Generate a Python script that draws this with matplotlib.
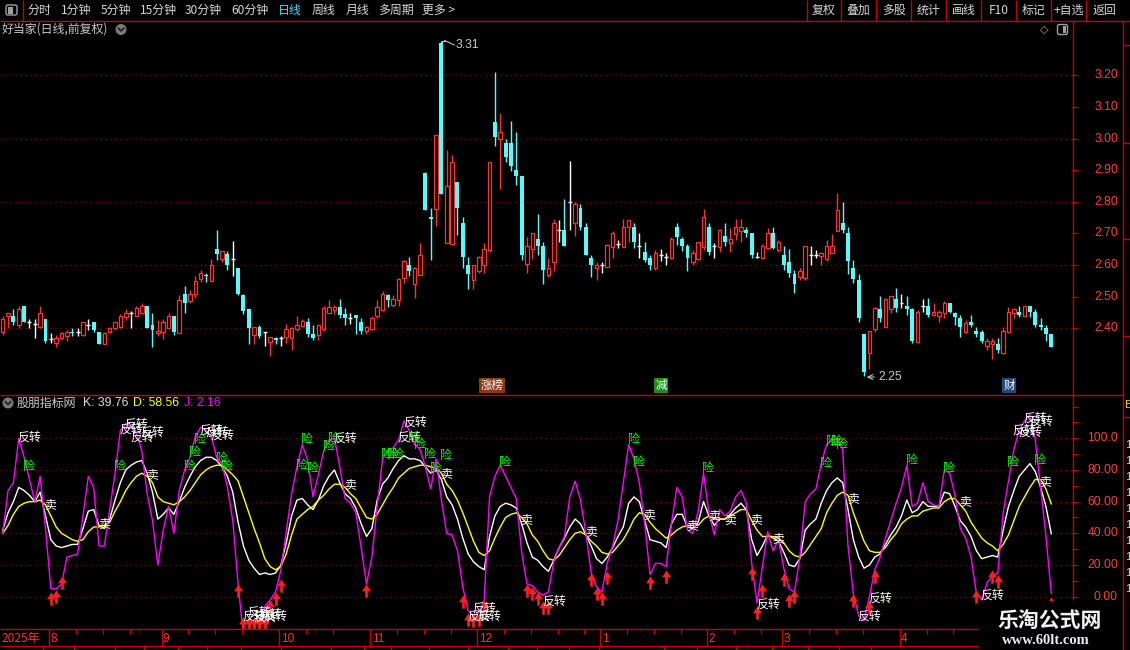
import numpy as np
import matplotlib
matplotlib.use('Agg')
import matplotlib.pyplot as plt
from matplotlib.path import Path
from matplotlib.markers import MarkerStyle
from matplotlib.patches import Rectangle, Circle, FancyBboxPatch
import matplotlib.transforms as mtransforms

plt.rcParams['font.family'] = ['Noto Sans CJK SC', 'DejaVu Sans']

# ---------------- data ----------------
opens = [2.39, 2.44, 2.44, 2.41, 2.47, 2.42, 2.415, 2.405, 2.43, 2.365,
         2.355, 2.37, 2.375, 2.39, 2.39, 2.38, 2.41, 2.42, 2.39, 2.35,
         2.39, 2.40, 2.405, 2.435, 2.45, 2.44, 2.45, 2.47, 2.41, 2.384,
         2.39, 2.40, 2.44, 2.385, 2.51, 2.485, 2.51, 2.555, 2.57, 2.55,
         2.65, 2.62, 2.635, 2.62, 2.59, 2.505, 2.46, 2.38, 2.405, 2.39,
         2.356, 2.37, 2.37, 2.374, 2.37, 2.398, 2.406, 2.42, 2.382, 2.38,
         2.398, 2.45, 2.457, 2.469, 2.445, 2.433, 2.442, 2.421, 2.392, 2.398,
         2.44, 2.457, 2.505, 2.475, 2.489, 2.56, 2.60, 2.54, 2.57, 2.892,
         2.752, 2.778, 3.302, 2.671, 2.668, 2.862, 2.733, 2.60, 2.552, 2.582,
         2.60, 2.648, 3.052, 2.999, 2.985, 2.985, 2.901, 2.882, 2.604, 2.651,
         2.684, 2.66, 2.568, 2.61, 2.71, 2.71, 2.80, 2.732, 2.779, 2.719,
         2.623, 2.59, 2.60, 2.595, 2.658, 2.668, 2.658, 2.719, 2.719, 2.66,
         2.642, 2.623, 2.59, 2.632, 2.626, 2.621, 2.719, 2.681, 2.66, 2.611,
         2.618, 2.656, 2.719, 2.66, 2.658, 2.692, 2.671, 2.698, 2.708, 2.71,
         2.70, 2.626, 2.621, 2.653, 2.70, 2.647, 2.632, 2.61, 2.572, 2.563,
         2.558, 2.632, 2.632, 2.628, 2.618, 2.639, 2.708, 2.732, 2.702, 2.592,
         2.553, 2.382, 2.321, 2.397, 2.46, 2.405, 2.46, 2.492, 2.481, 2.47,
         2.46, 2.358, 2.47, 2.47, 2.442, 2.439, 2.45, 2.481, 2.447, 2.432,
         2.39, 2.421, 2.392, 2.39, 2.344, 2.35, 2.35, 2.321, 2.389, 2.447,
         2.453, 2.439, 2.47, 2.453, 2.411, 2.40, 2.382]
highs = [2.44, 2.45, 2.46, 2.47, 2.47, 2.43, 2.43, 2.47, 2.43, 2.385,
         2.38, 2.39, 2.395, 2.40, 2.40, 2.42, 2.43, 2.42, 2.39, 2.39,
         2.405, 2.42, 2.445, 2.46, 2.455, 2.47, 2.48, 2.47, 2.45, 2.425,
         2.43, 2.45, 2.44, 2.505, 2.535, 2.52, 2.565, 2.585, 2.575, 2.62,
         2.71, 2.645, 2.645, 2.675, 2.59, 2.51, 2.46, 2.405, 2.41, 2.39,
         2.374, 2.374, 2.377, 2.415, 2.404, 2.44, 2.43, 2.433, 2.41, 2.41,
         2.47, 2.489, 2.475, 2.493, 2.463, 2.45, 2.442, 2.433, 2.406, 2.44,
         2.489, 2.519, 2.51, 2.505, 2.558, 2.615, 2.624, 2.594, 2.671, 2.894,
         2.779, 3.011, 3.31, 2.965, 2.949, 2.862, 2.752, 2.624, 2.60, 2.63,
         2.671, 2.925, 3.21, 3.08, 2.999, 3.055, 3.02, 2.882, 2.69, 2.701,
         2.761, 2.674, 2.621, 2.747, 2.742, 2.81, 2.93, 2.80, 2.793, 2.732,
         2.632, 2.61, 2.61, 2.668, 2.708, 2.68, 2.747, 2.744, 2.732, 2.70,
         2.674, 2.632, 2.647, 2.65, 2.639, 2.69, 2.732, 2.69, 2.668, 2.647,
         2.674, 2.777, 2.732, 2.67, 2.713, 2.732, 2.716, 2.747, 2.747, 2.719,
         2.702, 2.642, 2.668, 2.716, 2.719, 2.679, 2.66, 2.65, 2.584, 2.59,
         2.66, 2.66, 2.647, 2.642, 2.679, 2.698, 2.828, 2.80, 2.719, 2.616,
         2.572, 2.382, 2.392, 2.468, 2.502, 2.495, 2.502, 2.529, 2.51, 2.502,
         2.463, 2.458, 2.492, 2.495, 2.479, 2.458, 2.487, 2.481, 2.453, 2.442,
         2.426, 2.442, 2.405, 2.395, 2.368, 2.371, 2.371, 2.405, 2.466, 2.463,
         2.47, 2.47, 2.47, 2.46, 2.432, 2.411, 2.382]
lows = [2.38, 2.40, 2.41, 2.40, 2.42, 2.40, 2.37, 2.40, 2.355, 2.355,
        2.34, 2.37, 2.36, 2.375, 2.375, 2.375, 2.395, 2.39, 2.35, 2.35,
        2.385, 2.395, 2.40, 2.425, 2.40, 2.44, 2.445, 2.40, 2.34, 2.375,
        2.365, 2.40, 2.38, 2.385, 2.45, 2.48, 2.495, 2.545, 2.545, 2.55,
        2.615, 2.61, 2.585, 2.565, 2.505, 2.445, 2.35, 2.35, 2.37, 2.345,
        2.314, 2.35, 2.344, 2.353, 2.332, 2.392, 2.404, 2.374, 2.362, 2.362,
        2.392, 2.449, 2.445, 2.433, 2.41, 2.415, 2.382, 2.382, 2.382, 2.394,
        2.433, 2.454, 2.469, 2.469, 2.471, 2.544, 2.564, 2.495, 2.57, 2.773,
        2.616, 2.723, 2.824, 2.671, 2.663, 2.695, 2.592, 2.523, 2.523, 2.576,
        2.576, 2.642, 2.975, 2.842, 2.925, 2.898, 2.853, 2.615, 2.576, 2.618,
        2.632, 2.54, 2.563, 2.582, 2.674, 2.66, 2.71, 2.692, 2.71, 2.632,
        2.563, 2.553, 2.574, 2.593, 2.621, 2.653, 2.656, 2.674, 2.653, 2.621,
        2.611, 2.584, 2.584, 2.614, 2.60, 2.618, 2.663, 2.645, 2.582, 2.60,
        2.616, 2.647, 2.632, 2.621, 2.642, 2.66, 2.642, 2.679, 2.674, 2.69,
        2.621, 2.621, 2.618, 2.65, 2.65, 2.642, 2.584, 2.563, 2.513, 2.553,
        2.553, 2.60, 2.621, 2.60, 2.614, 2.637, 2.708, 2.702, 2.572, 2.542,
        2.421, 2.25, 2.27, 2.39, 2.421, 2.403, 2.45, 2.453, 2.463, 2.442,
        2.353, 2.353, 2.453, 2.437, 2.439, 2.421, 2.434, 2.449, 2.411, 2.374,
        2.384, 2.403, 2.372, 2.353, 2.332, 2.302, 2.321, 2.319, 2.384, 2.432,
        2.437, 2.437, 2.437, 2.405, 2.395, 2.361, 2.342]
closes = [2.43, 2.45, 2.42, 2.46, 2.42, 2.42, 2.415, 2.45, 2.36, 2.365,
          2.37, 2.385, 2.39, 2.385, 2.39, 2.42, 2.41, 2.395, 2.35, 2.385,
          2.40, 2.42, 2.44, 2.45, 2.45, 2.465, 2.47, 2.40, 2.395, 2.392,
          2.42, 2.44, 2.39, 2.49, 2.48, 2.51, 2.55, 2.575, 2.565, 2.60,
          2.635, 2.645, 2.60, 2.62, 2.51, 2.455, 2.40, 2.405, 2.375, 2.39,
          2.374, 2.362, 2.37, 2.398, 2.40, 2.412, 2.424, 2.382, 2.37, 2.41,
          2.463, 2.469, 2.469, 2.442, 2.433, 2.433, 2.433, 2.392, 2.404, 2.433,
          2.469, 2.51, 2.49, 2.493, 2.555, 2.612, 2.582, 2.59, 2.632, 2.775,
          2.745, 3.011, 2.824, 2.85, 2.925, 2.782, 2.624, 2.573, 2.60, 2.624,
          2.651, 2.925, 3.005, 3.02, 2.942, 2.913, 2.882, 2.632, 2.66, 2.701,
          2.66, 2.584, 2.592, 2.732, 2.71, 2.66, 2.80, 2.793, 2.721, 2.632,
          2.60, 2.60, 2.60, 2.663, 2.70, 2.668, 2.721, 2.742, 2.674, 2.66,
          2.616, 2.60, 2.639, 2.632, 2.626, 2.684, 2.69, 2.66, 2.621, 2.639,
          2.674, 2.751, 2.642, 2.66, 2.71, 2.674, 2.681, 2.719, 2.719, 2.702,
          2.632, 2.626, 2.66, 2.70, 2.653, 2.674, 2.60, 2.574, 2.54, 2.582,
          2.66, 2.632, 2.632, 2.639, 2.66, 2.66, 2.774, 2.711, 2.614, 2.555,
          2.432, 2.263, 2.392, 2.463, 2.432, 2.492, 2.502, 2.463, 2.481, 2.46,
          2.361, 2.453, 2.47, 2.442, 2.453, 2.453, 2.481, 2.453, 2.437, 2.403,
          2.418, 2.411, 2.382, 2.361, 2.361, 2.361, 2.332, 2.392, 2.453, 2.46,
          2.442, 2.47, 2.453, 2.411, 2.403, 2.382, 2.342]

k_vals = [42, 53, 60, 69, 67, 64, 60, 66, 51, 36, 32, 31, 32, 33, 33, 43, 54, 55, 45, 43,
          49, 61, 72, 80, 83, 85, 86, 78, 66, 49, 52, 56, 52, 60, 69, 76, 82, 86, 88, 88,
          86, 82, 76, 66, 47, 32, 23, 18, 14, 15,
          14, 15, 20, 34, 51, 61, 62, 58, 55, 61, 70, 76, 80, 72, 65, 62, 56, 46, 38, 43,
          61, 71, 75, 81, 86, 89, 87, 87, 86, 82, 78, 80, 74, 63, 58, 49, 37, 27, 22, 19,
          17, 38, 51, 57, 59, 58, 56, 46, 34, 25,
          23, 19, 16, 23, 31, 37, 44, 49, 46, 39, 32, 24, 21, 25, 31, 38, 44, 59, 63, 60,
          48, 36, 35, 34, 31, 46, 52, 52, 44, 43, 47, 60, 51, 45, 49, 49, 52, 56, 59, 55,
          36, 26, 32, 39, 37, 35, 28, 20, 19, 24,
          42, 46, 49, 59, 67, 72, 75, 72, 55, 36, 25, 18, 20, 25, 27, 33, 39, 44, 51, 61,
          53, 55, 60, 57, 57, 57, 66, 65, 57, 48, 44, 38, 29, 24, 25, 26, 25, 42, 57, 67,
          76, 80, 84, 79, 69, 57, 39.76]
d_vals = [40, 45, 52, 57, 59, 60, 60, 61, 58, 51, 44, 40, 38, 36, 35, 36, 41, 44, 44, 45,
          47, 54, 60, 67, 72, 76, 78, 76, 72, 63, 60, 59, 58, 60, 63, 67, 72, 77, 80, 82,
          83, 83, 80, 77, 73, 63, 53, 43, 34, 24,
          19, 17, 19, 27, 39, 49, 52, 55, 57, 61, 64, 68, 71, 71, 69, 65, 62, 56, 50, 49,
          52, 58, 64, 69, 75, 78, 81, 82, 83, 83, 82, 81, 78, 71, 67, 61, 53, 44, 35, 28,
          26, 29, 37, 44, 50, 52, 53, 50, 46, 39,
          35, 29, 24, 23, 26, 31, 36, 40, 41, 39, 35, 32, 28, 27, 28, 32, 36, 42, 49, 53,
          52, 47, 43, 40, 37, 39, 42, 44, 45, 45, 45, 49, 51, 49, 49, 49, 51, 53, 55, 55,
          48, 42, 38, 38, 38, 37, 34, 29, 26, 25,
          28, 33, 38, 43, 53, 59, 64, 66, 64, 53, 44, 35, 29, 28, 28, 31, 36, 40, 46, 49,
          51, 51, 54, 55, 56, 56, 60, 62, 62, 58, 54, 47, 42, 37, 34, 32, 29, 33, 39, 48,
          57, 63, 69, 74, 74, 68, 58.56]
j_vals = [40, 67, 72, 100, 88, 74, 60, 76, 43, 5, 5, 8, 25, 26, 27, 51, 76, 69, 32, 32,
          55, 78, 105, 109, 107, 103, 92, 65, 48, 20, 42, 57, 40, 67, 80, 88, 101, 107, 105, 101,
          88, 84, 69, 48, 8, -25, -30, -28, -20, -6,
          -2, 3, 17, 41, 65, 82, 96, 86, 63, 77, 92, 99, 100, 82, 62, 59, 53, 31, 8, 25,
          57, 87, 92, 94, 99, 111, 105, 96, 93, 82, 68, 87, 61, 40, 39, 29, 6, -9, -12, -10,
          -2, 63, 76, 83, 76, 69, 62, 28, 8, 7,
          3, 1, 3, 22, 31, 38, 63, 73, 61, 40, 15, 6, 3, 21, 32, 48, 72, 96, 87, 72,
          46, 14, 21, 21, 19, 46, 69, 63, 42, 40, 54, 78, 53, 39, 55, 51, 54, 63, 67, 59,
          21, -4, 19, 41, 29, 36, 18, 5, 3, 25,
          60, 65, 68, 84, 96, 99, 99, 93, 32, 2, -12, -15, 0, 17, 25, 37, 48, 59, 69, 83,
          57, 59, 72, 60, 58, 57, 80, 78, 64, 43, 37, 25, 2, -2, 9, 13, 15, 53, 73, 93,
          105, 111, 115, 99, 69, 38, 2.16]

price_ticks = [3.20, 3.10, 3.00, 2.90, 2.80, 2.70, 2.60, 2.50, 2.40]
price_grid = [3.20, 3.00, 2.80, 2.60, 2.40]
kdj_labels = [100, 80, 60, 40, 20, 0]
month_labels = ['8', '9', '10', '11', '12', '1', '2', '3', '4']
month_start = [9, 30, 52, 69, 89, 112, 132, 146, 168]
year_label = '2025年'

# signal labels: (candle index, indicator value)
fanzhuan = [(3, 101), (22, 106), (23, 109), (24, 101), (26, 104), (37, 105), (38, 104),
            (39, 102), (45, -12), (46, -10), (47, -13), (48, -11), (49, -12), (62, 100),
            (74, 101), (75, 110), (87, -12), (88, -7), (89, -12), (101, -3), (141, -5),
            (160, -12), (162, -1), (183, 1), (189, 105), (190, 104), (191, 113), (192, 111)]
xian = [(4, 82), (21, 82), (34, 82), (35, 91), (36, 99), (40, 87), (41, 82), (55, 83),
        (56, 99), (57, 81), (60, 95), (61, 100), (71, 90), (72, 90), (73, 90), (76, 100),
        (77, 96), (79, 90), (80, 81), (82, 89), (93, 85), (117, 99), (118, 85), (131, 81),
        (153, 84), (154, 98), (155, 98), (156, 96), (169, 86), (176, 81), (188, 85), (193, 86)]
mai = [(8, 58), (18, 46), (27, 77), (64, 71), (82, 78), (97, 49), (109, 41), (120, 52),
       (128, 45), (132, 51), (135, 49), (140, 49), (144, 37), (158, 62), (179, 60), (194, 73)]
arrows = [(9, 3), (10, 4), (11, 13), (44, 8), (45, -13), (46, -13), (47, -13), (48, -13),
          (49, -13), (50, -2), (51, 3), (52, 11), (68, 8), (86, 1), (87, -10), (88, -11),
          (89, -10), (90, -2), (98, 8), (99, 6), (100, 3), (101, -3), (102, -3), (110, 15),
          (111, 6), (112, 3), (113, 16), (121, 13), (124, 17), (140, 19), (141, -6), (142, 8),
          (146, 15), (147, 2), (148, 4), (159, 2), (162, -3), (163, 17), (182, 4), (185, 17),
          (186, 14), (196, 0)]
event_tags = [(91.5, '涨榜', '#8B3A10'), (123.1, '减', '#1E8C1E'), (188.1, '财', '#1F4A80')]
high_mark = (82, 3.31)
low_mark = (161, 2.25)

# ---------------- styling ----------------
W, H = 1130, 650
RED_LINE = '#C80000'
GRID = '#9A0000'
UP = '#FF3232'
DOWN = '#54FCFC'
LBL_RED = '#FF3C3C'
TXT = '#D8D8D8'
NUMF = ['Liberation Sans', 'DejaVu Sans']

fig = plt.figure(figsize=(W / 100, H / 100), dpi=100, facecolor='black')


def fax(x0, y0, x1, y1):
    return [x0 / W, (H - y1) / H, (x1 - x0) / W, (y1 - y0) / H]


XL = (-0.5047, 199.87)
ax1 = fig.add_axes(fax(0, 20.5, 1072, 393.5))
ax2 = fig.add_axes(fax(0, 394.5, 1072, 628.5))
ax3 = fig.add_axes(fax(0, 629, 1072, 646))
for a in (ax1, ax2, ax3):
    a.set_facecolor('black')
    a.set_xlim(*XL)
    a.set_xticks([])
    for s in a.spines.values():
        s.set_visible(False)
ax1.set_ylim(2.19399, 3.37325)
ax2.set_ylim(-20.08, 127.65)
ax3.set_ylim(0, 1)
ax3.set_yticks([])

# ---------------- candles ----------------
o = np.array(opens); h = np.array(highs); l = np.array(lows); c = np.array(closes)
x = np.arange(len(o))
up = c > o; dn = c < o; eq = c == o
ax1.vlines(x[up], l[up], h[up], color=UP, lw=1.0, zorder=2)
ax1.bar(x[up], c[up] - o[up], bottom=o[up], width=0.66, facecolor='black',
        edgecolor=UP, linewidth=0.9, zorder=3)
ax1.vlines(x[dn], l[dn], h[dn], color=DOWN, lw=1.0, zorder=2)
ax1.bar(x[dn], o[dn] - c[dn], bottom=c[dn], width=0.74, color=DOWN, linewidth=0, zorder=3)
ax1.vlines(x[eq], l[eq], h[eq], color='white', lw=1.0, zorder=2)
ax1.hlines(o[eq], x[eq] - 0.37, x[eq] + 0.37, color='white', lw=1.0, zorder=3)

for g in price_grid:
    ax1.axhline(g, color=GRID, lw=0.9, ls=(0, (1, 3)), zorder=1)
ax1.yaxis.tick_right()
ax1.set_yticks(price_ticks)
ax1.tick_params(axis='y', colors=RED_LINE, length=4, width=0.9, labelright=False, labelleft=False)
ytr1 = ax1.get_yaxis_transform()
for v in price_ticks:
    ax1.text(1118 / 1072, v, f'{v:.2f}', transform=ytr1, ha='right', va='center',
             color=LBL_RED, fontsize=8.8, family=NUMF, clip_on=False)

# high / low annotations
hx, hv = high_mark
ax1.plot([hx + 0.15, hx + 0.15, hx + 0.6], [hv - 0.006, hv, hv], color='#C0C0C0', lw=0.8, zorder=4)
ax1.plot([hx + 0.6, hx + 2.4], [hv, hv - 0.014], color='#C0C0C0', lw=0.8, zorder=4)
ax1.text(hx + 2.6, hv - 0.015, f'{hv:.2f}', color='#C8C8C8', fontsize=8.8, family=NUMF,
         ha='left', va='center', zorder=4)
lx, lv = low_mark
ax1.annotate(f'{lv:.2f}', xy=(lx + 0.5, lv - 0.004), xytext=(lx + 2.7, lv - 0.004),
             color='#C8C8C8', fontsize=8.8, family=NUMF, ha='left', va='center',
             arrowprops=dict(arrowstyle='->', color='#C0C0C0', lw=0.8, shrinkA=1, shrinkB=0),
             zorder=4)

# event tags near the bottom of the price panel
btr = mtransforms.blended_transform_factory(ax1.transData, ax1.transAxes)
for ex, et, ec in event_tags:
    ax1.text(ex, 0.0215, et, transform=btr, ha='center', va='center', color='white',
             fontsize=8.3, bbox=dict(boxstyle='square,pad=0.12', fc=ec, ec='none'), zorder=5)

# ---------------- KDJ ----------------
for g in kdj_labels:
    ax2.axhline(g, color=GRID, lw=0.9, ls=(0, (1, 3)), zorder=1)
xk = np.arange(len(k_vals))
ax2.plot(xk, k_vals, color='white', lw=1.0, zorder=3)
ax2.plot(xk, d_vals, color='#FFFF00', lw=1.0, zorder=3)
ax2.plot(xk, j_vals, color='#FF00FF', lw=1.0, zorder=3)

ax2.yaxis.tick_right()
ax2.set_yticks(list(range(0, 121, 10)))
ax2.tick_params(axis='y', colors=RED_LINE, length=4, width=0.9, labelright=False, labelleft=False)
ytr2 = ax2.get_yaxis_transform()
for v in kdj_labels:
    lab = f'{v:.1f}' if v >= 100 else f'{v:.2f}'
    ax2.text(1118 / 1072, v, lab, transform=ytr2, ha='right', va='center',
             color=LBL_RED, fontsize=8.8, family=NUMF, clip_on=False)

verts = [(0, 0), (0.34, -0.52), (0.1, -0.52), (0.1, -1), (-0.1, -1), (-0.1, -0.52),
         (-0.34, -0.52), (0, 0)]
codes = [Path.MOVETO] + [Path.LINETO] * 6 + [Path.CLOSEPOLY]
arrow_marker = MarkerStyle(Path(verts, codes))
ai = [a for a, _ in arrows]
av = [b for _, b in arrows]
ax2.plot(ai, av, ls='none', marker=arrow_marker, markersize=19, color='#FF1E1E',
         markeredgewidth=0, zorder=4)

for i, v in fanzhuan:
    ax2.text(i - 0.2, v, '反转', color='white', fontsize=8.6, ha='left', va='center', zorder=5)
for i, v in xian:
    ax2.text(i - 0.2, v, '险', color='#00FF00', fontsize=8.6, ha='left', va='center', zorder=5)
for i, v in mai:
    ax2.text(i - 0.2, v, '卖', color='white', fontsize=8.6, ha='left', va='center', zorder=5)

# ---------------- date bar ----------------
ax3.text(-0.3, 0.45, year_label, color='#FF3030', fontsize=8.6, ha='left', va='center')
bounds = month_start + [len(o) + 3]
weeks = []
for s0, s1 in zip(bounds[:-1], bounds[1:]):
    t = s0 + 5
    while t < s1 - 2:
        weeks.append(t)
        t += 5
ax3.vlines(np.array(weeks) - 0.28, 0.72, 1.0, color=RED_LINE, lw=0.9)
for ms, ml in zip(month_start, month_labels):
    ax3.axvline(ms - 0.28, color=RED_LINE, lw=1.0)
    ax3.text(ms - 0.05, 0.42, ml, color='#FF3030', fontsize=8.6, family=NUMF,
             ha='left', va='center')

# ---------------- overlay: frame, toolbar, titles ----------------
ov = fig.add_axes([0, 0, 1, 1], zorder=10)
ov.set_xlim(0, W)
ov.set_ylim(H, 0)
ov.axis('off')
ov.patch.set_alpha(0)

def hl(y, x0, x1, **kw):
    ov.plot([x0, x1], [y, y], color=RED_LINE, lw=1.0, solid_capstyle='butt', **kw)

def vl(xp, y0, y1, **kw):
    ov.plot([xp, xp], [y0, y1], color=RED_LINE, lw=1.0, solid_capstyle='butt', **kw)

hl(20.5, 0, W)
hl(394.5, 0, 1123)
vl(1072.5, 20.5, 600)
vl(1123, 20.5, 650)
hl(629, 0, 978)
hl(646, 0, 978)
vl(22.5, 0, 20.5)
for sx in [807, 841, 876, 911, 946, 981, 1016, 1051, 1086]:
    vl(sx, 0, 20.5)
for sy in [45, 143, 239, 336, 417]:
    hl(sy, 1123, W)
for bx in [43, 74, 115, 144, 178, 207, 241, 281, 331, 364, 391, 429, 468, 508, 537,
           569, 599, 664, 697, 736, 772, 808, 839, 871]:
    vl(bx, 646, 650)

# toolbar icon
ov.add_patch(FancyBboxPatch((6, 5), 11, 10, boxstyle='round,pad=0,rounding_size=2',
                            fc='none', ec='#A0A0A0', lw=1.0))
ov.add_patch(Rectangle((7.5, 6.5), 5, 7, fc='#A0A0A0', ec='none'))
tool_items = [('分时', 28), ('1分钟', 61), ('5分钟', 101), ('15分钟', 140), ('30分钟', 185),
              ('60分钟', 231), ('日线', 278), ('周线', 312), ('月线', 346), ('多周期', 378),
              ('更多 >', 422)]
for t, tx in tool_items:
    ov.text(tx, 10.5, t, color='#33DDFF' if t == '日线' else TXT, fontsize=8.6,
            ha='left', va='center')
right_items = [('复权', 824), ('叠加', 858.5), ('多股', 893.5), ('统计', 928.5), ('画线', 963.5),
               ('F10', 998.5), ('标记', 1033.5), ('+自选', 1068.5), ('返回', 1104.5)]
for t, tx in right_items:
    ov.text(tx, 10.5, t, color=TXT, fontsize=8.6, ha='center', va='center')

# price panel title
ov.text(2, 29.5, '好当家(日线,前复权)', color='#C8C8C8', fontsize=8.6, ha='left', va='center')
ov.add_patch(Circle((121, 29.5), 5.5, fc='#7A7A7A', ec='none'))
ov.plot([118.3, 121, 123.7], [28.2, 31, 28.2], color='#202020', lw=1.2)
ov.text(1044, 29.5, '◇', color='#A0A0A0', fontsize=8, ha='center', va='center',
        family=['DejaVu Sans'])
ov.add_patch(FancyBboxPatch((1057.5, 24.5), 10, 10, boxstyle='round,pad=0,rounding_size=2',
                            fc='none', ec='#A0A0A0', lw=1.0))
ov.add_patch(Rectangle((1063, 26), 3, 7, fc='#A0A0A0', ec='none'))

# indicator title
ov.add_patch(Circle((8, 403), 5.5, fc='#7A7A7A', ec='none'))
ov.plot([5.3, 8, 10.7], [401.7, 404.5, 401.7], color='#202020', lw=1.2)
ov.text(17, 403, '股朋指标网', color='#C8C8C8', fontsize=8.6, ha='left', va='center')
ov.text(83, 403, f'K: {k_vals[-1]:.2f}', color='#E0E0E0', fontsize=8.8, family=NUMF,
        ha='left', va='center')
ov.text(133, 403, f'D: {d_vals[-1]:.2f}', color='#FFFF00', fontsize=8.8, family=NUMF,
        ha='left', va='center')
ov.text(184, 403, f'J: {j_vals[-1]:.2f}', color='#FF00FF', fontsize=8.8, family=NUMF,
        ha='left', va='center')

# right side strip fragments
for sy in range(445, 600, 16):
    ov.text(1125, sy, '1', color='#D0D0D0', fontsize=8, family=NUMF, ha='left', va='center')
ov.text(1124, 405, 'B', color='#E0E000', fontsize=8, family=NUMF, ha='left', va='center')

# watermark
ov.add_patch(Rectangle((978, 601), W - 978, H - 601, fc='black', ec='none'))
ov.text(1050, 620, '乐淘公式网', color='#F2F2F2', fontsize=15, fontweight='bold',
        ha='center', va='center')
ov.text(1046, 640, 'www.60lt.com', color='#E8EEF8', fontsize=10.5, fontweight='bold',
        family=['Liberation Serif', 'DejaVu Serif'], ha='center', va='center')

fig.savefig('out.png', dpi=100, facecolor='black')
